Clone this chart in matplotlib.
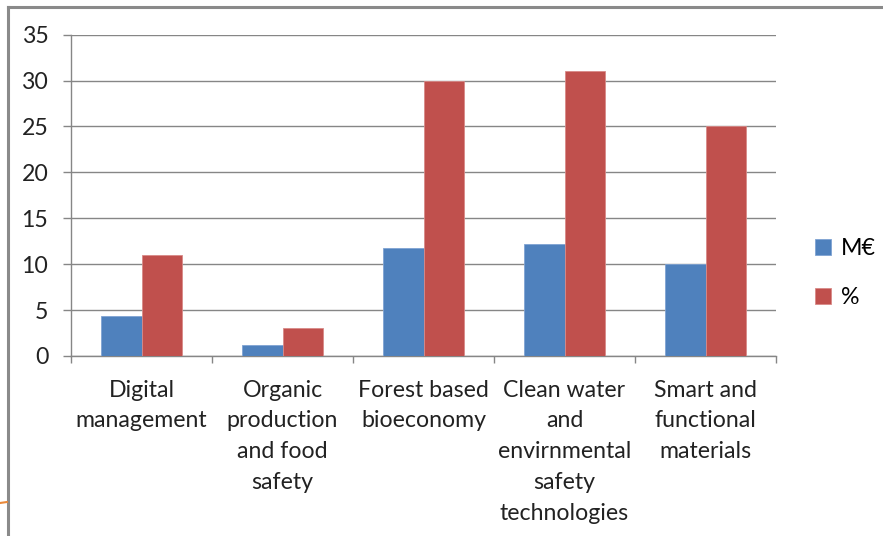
import numpy as np
import matplotlib.pyplot as plt
from matplotlib.lines import Line2D

categories = ["Digital\nmanagement",
              "Organic\nproduction\nand food\nsafety",
              "Forest based\nbioeconomy",
              "Clean water\nand\nenvirnmental\nsafety\ntechnologies",
              "Smart and\nfunctional\nmaterials"]
meur = [4.4, 1.2, 11.8, 12.2, 10.0]
pct = [11, 3, 30, 31, 25]
series_names = ["M€", "%"]

plt.rcParams['font.family'] = ['Lato', 'DejaVu Sans']
grey = '#868686'
blue = '#4F81BD'
red = '#C0504D'
fs = 16.7

fig = plt.figure(figsize=(8.83, 5.36), dpi=100)
ax = fig.add_axes([71 / 883, 1 - 356 / 536, 705 / 883, 321.3 / 536])

x = np.arange(len(categories))
w = 0.284
ax.bar(x - w / 2, meur, w, color=blue, edgecolor='#7fa3d3', linewidth=0.6, label=series_names[0], zorder=3)
ax.bar(x + w / 2, pct, w, color=red, edgecolor='#d88a88', linewidth=0.6, label=series_names[1], zorder=3)

ax.set_xlim(-0.5, len(categories) - 0.5)
ax.set_ylim(0, 35)
ax.set_yticks(range(0, 36, 5))
ax.yaxis.grid(True, color=grey, linewidth=1.0, zorder=0)
for s in ['top', 'right']:
    ax.spines[s].set_visible(False)
for s in ['left', 'bottom']:
    ax.spines[s].set_color(grey)
    ax.spines[s].set_linewidth(1.0)

ax.set_xticks(x)
ax.set_xticklabels(categories, fontsize=fs, color='#222222', linespacing=1.58)
ax.tick_params(axis='x', which='major', length=0, pad=17)
ax.set_xticks(np.arange(-0.5, len(categories), 1.0), minor=True)
ax.tick_params(axis='x', which='minor', length=5, color=grey, width=1.0)
ax.tick_params(axis='y', length=5.8, color=grey, width=1.0, labelsize=fs,
               labelcolor='#222222', pad=10.5)

leg = ax.legend(loc='center left', bbox_to_anchor=(1.026, 0.258), frameon=False,
                fontsize=fs, handlelength=0.7, handleheight=0.7,
                handletextpad=0.4, labelspacing=1.22)

# slide frame around the chart
fig.add_artist(Line2D([8 / 883, 1], [1 - 7 / 536, 1 - 7 / 536], color='#8a8a8a', linewidth=2.2))
fig.add_artist(Line2D([8 / 883, 8 / 883], [0, 1 - 7 / 536], color='#8a8a8a', linewidth=2.2))
fig.add_artist(Line2D([0, 7 / 883], [1 - 503 / 536, 1 - 502 / 536], color='#E9893A', linewidth=1.5))

fig.savefig('out.png', dpi=100)
